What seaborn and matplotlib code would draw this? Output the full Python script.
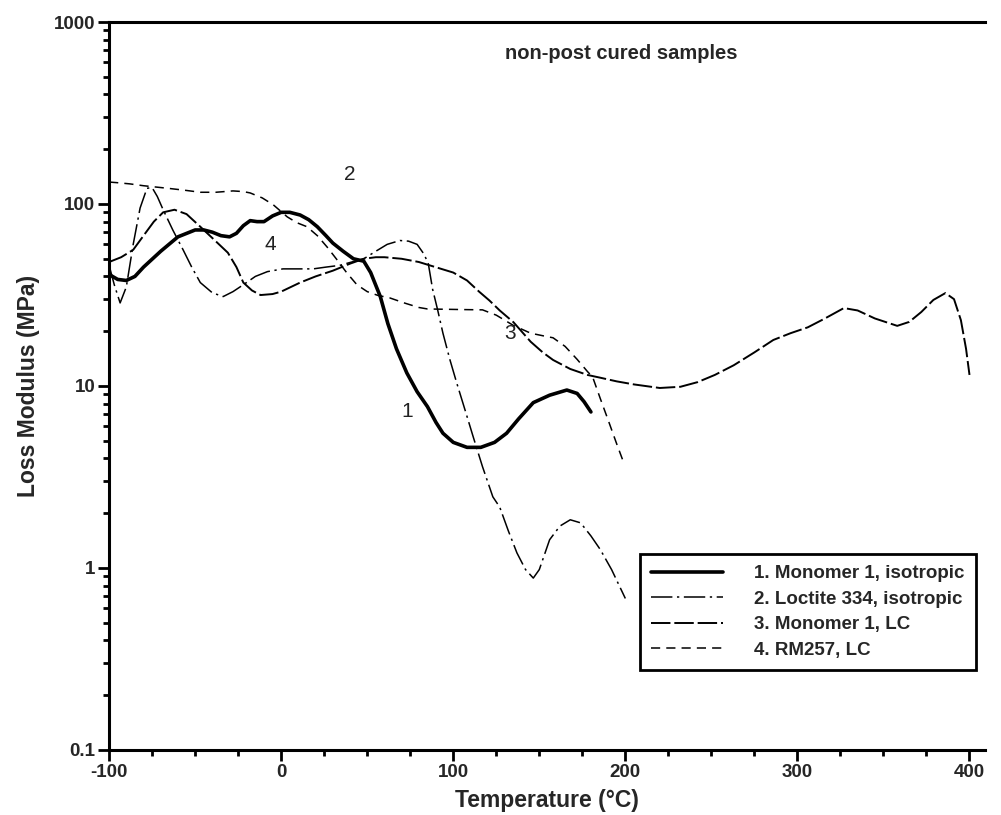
import numpy as np
import pandas as pd
import matplotlib
matplotlib.use("Agg")
import matplotlib.pyplot as plt
import seaborn as sns
from matplotlib.ticker import FixedLocator, NullFormatter, LogLocator

# ---- data ----
t1 = [-100, -95, -90, -85, -80, -70, -60, -50, -45, -40, -35, -30, -26, -22, -18, -14, -10, -5, 0, 5, 11, 16, 21, 26, 30, 36, 42, 48, 52, 57.6, 62, 67, 73, 79, 85, 90, 94, 100, 108, 116, 124, 131, 138, 146.5, 156, 166, 172, 176, 180]
e1 = [41, 38.5, 38, 40, 45, 55, 66, 72, 72, 70, 67, 66, 69, 76, 81, 80, 80, 86, 90, 90, 87, 82, 75, 67, 61, 55, 50, 48.5, 42, 31, 22, 16, 11.8, 9.3, 7.7, 6.3, 5.5, 4.9, 4.6, 4.6, 4.9, 5.5, 6.6, 8.1, 8.9, 9.5, 9.1, 8.2, 7.2]

t2 = [-100, -97, -93.6, -90, -86, -82, -78, -75, -72, -68.6, -63, -57, -52, -47, -40, -33.7, -28, -22, -15, -8, 1, 10, 18.6, 26, 34, 41, 48, 55, 61.6, 69, 74, 79, 83, 85.5, 88, 91, 94, 98, 102, 107, 111.6, 117, 123, 127, 132, 137, 142, 146.5, 150, 156, 162, 168, 174, 180, 185.5, 192, 200]
e2 = [46, 36, 28.6, 35, 60, 95, 122, 123, 110, 93, 72, 56, 45, 37, 32.5, 31, 33, 36, 40, 42.5, 44, 44, 44, 45, 46, 48, 50, 55, 60, 63, 62.5, 60, 53, 47, 34, 26, 19.5, 14, 10.4, 7.3, 5.25, 3.6, 2.46, 2.16, 1.6, 1.21, 0.98, 0.88, 0.98, 1.43, 1.7, 1.84, 1.77, 1.5, 1.26, 0.98, 0.68]

t3 = [-100, -93, -86, -80, -74, -68.6, -62, -55, -47, -40, -31, -26, -22, -17, -12, -5, 0, 11, 20, 30, 40, 48, 55, 60, 70, 80, 88, 100, 108, 115, 121, 127, 135, 145, 152, 158, 168, 178, 185.5, 195, 205, 220, 232, 242, 252, 263, 275, 286, 296, 306, 316, 327, 335, 345, 358, 365, 372, 379, 386, 391, 395, 398, 400]
e3 = [48, 51, 56, 67, 80, 90, 93, 88, 75, 65, 54, 45, 37, 33.5, 31.6, 32, 33, 37, 40, 43, 47, 50, 51, 51, 50, 48, 45.5, 42, 38, 33, 29.5, 26, 22.4, 17.5, 15.3, 13.9, 12.4, 11.5, 11.1, 10.6, 10.2, 9.75, 9.9, 10.5, 11.5, 13, 15.3, 17.9, 19.5, 21, 23.5, 26.8, 26, 23.5, 21.4, 22.5, 25.5, 29.7, 32.4, 30, 23, 16, 11.5]

t4 = [-100, -95.5, -88, -80, -66, -56, -47, -38, -28, -22, -18, -11, -4.6, 3.5, 9, 15, 21, 26.7, 32, 38, 44, 50, 56, 63, 72, 80, 85, 95, 105, 117, 125, 135, 145, 153, 158, 165, 172, 178, 181, 185.5, 190, 195, 199]
e4 = [132, 131, 129, 126, 122, 119, 116, 116, 118, 117, 115, 108, 99, 85, 79, 75, 67, 58, 50, 42, 36, 33, 31.5, 30.5, 28.5, 27, 26.5, 26.4, 26.3, 26.2, 24.5, 21.5, 19.5, 18.8, 18.4, 16.5, 14, 12, 11.2, 8.5, 6.5, 4.8, 3.8]

series_names = ["1. Monomer 1, isotropic", "2. Loctite 334, isotropic",
                "3. Monomer 1, LC", "4. RM257, LC"]
curve_labels = ["1", "2", "3", "4"]
label_pos_t = [73, 40, 133, -6.5]
label_pos_e = [7.2, 145, 19.5, 60]

x_ticks = [-100, 0, 100, 200, 300, 400]
y_ticks = [0.1, 1, 10, 100, 1000]
y_tick_labels = ["0.1", "1", "10", "100", "1000"]

# ---- styling ----
sns.set_theme(style="white")
plt.rcParams['font.family'] = ['Liberation Sans', 'DejaVu Sans']

fig = plt.figure(figsize=(10.01, 8.15), dpi=100)
ax = fig.add_axes([0.109, 0.0798, 0.875, 0.8932])

styles = [
    dict(linewidth=2.6, linestyle='-'),
    dict(linewidth=1.1, linestyle=(0, (14, 3, 1.5, 3))),
    dict(linewidth=1.4, linestyle=(0, (10, 2))),
    dict(linewidth=1.1, linestyle=(0, (6, 4))),
]
data = [(t1, e1), (t2, e2), (t3, e3), (t4, e4)]
for (t, e), name, st in zip(data, series_names, styles):
    df = pd.DataFrame({"T": t, "E": e})
    sns.lineplot(data=df, x="T", y="E", ax=ax, color="black", sort=False,
                 label=name, **st)

ax.set_yscale("log")
ax.set_xlim(-100, 409)
ax.set_ylim(0.1, 1000)

ax.set_xticks(x_ticks)
ax.set_xticklabels([str(v) for v in x_ticks])
ax.xaxis.set_minor_locator(FixedLocator(np.arange(-100, 410, 25)))
ax.set_yticks(y_ticks)
ax.set_yticklabels(y_tick_labels)
ax.yaxis.set_minor_locator(LogLocator(base=10, subs=np.arange(2, 10)))
ax.yaxis.set_minor_formatter(NullFormatter())

ax.tick_params(axis='both', which='major', direction='out', length=8, width=2,
               color='black', labelsize=13.5, pad=2, bottom=True, left=True)
ax.tick_params(axis='both', which='minor', direction='out', length=4, width=2,
               color='black', bottom=True, left=True)
for lab in ax.get_xticklabels() + ax.get_yticklabels():
    lab.set_fontweight('bold')

for side in ['left', 'bottom', 'top']:
    ax.spines[side].set_visible(True)
    ax.spines[side].set_color('black')
    ax.spines[side].set_linewidth(2.2)
ax.spines['right'].set_visible(False)

ax.set_xlabel("Temperature (°C)", fontsize=16.5, fontweight='bold', labelpad=6)
ax.set_ylabel("Loss Modulus (MPa)", fontsize=16.5, fontweight='bold', labelpad=10)

ax.text(0.585, 0.957, "non-post cured samples", transform=ax.transAxes,
        ha='center', va='center', fontsize=14.5, fontweight='bold')

for lab, tx, ey in zip(curve_labels, label_pos_t, label_pos_e):
    ax.text(tx, ey, lab, ha='center', va='center', fontsize=15, color='#222222')

leg = ax.legend(loc='upper left', bbox_to_anchor=(0.6394, 0.3206),
                bbox_transform=fig.transFigure, frameon=True, fancybox=False,
                edgecolor='black', framealpha=1, handlelength=3.8,
                prop={'weight': 'bold', 'size': 13.5}, borderpad=0.6,
                labelspacing=0.45, handletextpad=1.7, borderaxespad=0)
leg.get_frame().set_linewidth(2)

fig.savefig("out.png", dpi=100)
